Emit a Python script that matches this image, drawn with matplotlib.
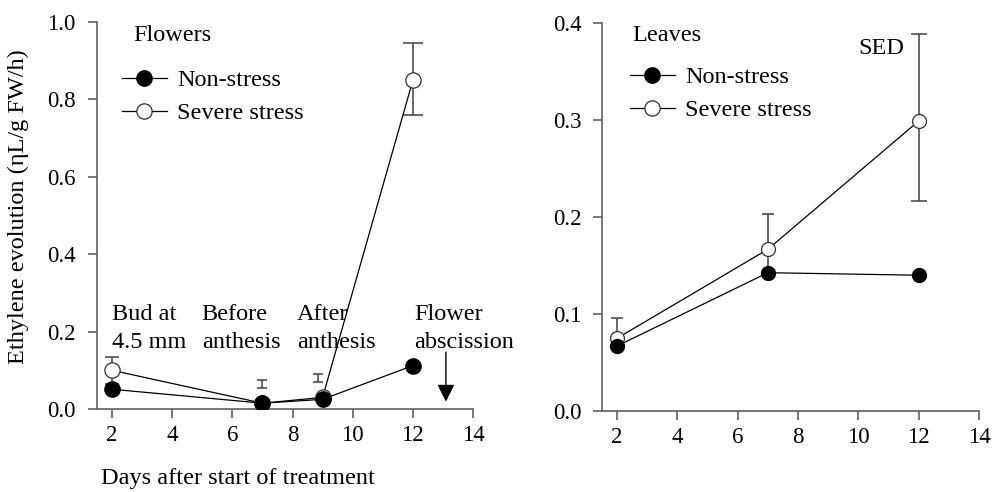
import matplotlib
matplotlib.use("Agg")
import matplotlib.pyplot as plt
from matplotlib.lines import Line2D

plt.rcParams['font.family'] = ['Liberation Serif', 'DejaVu Serif']
plt.rcParams['font.size'] = 17.5

# flowers
days_f = [2, 7, 9, 12]
flow_non = [0.051, 0.015, 0.025, 0.112]
flow_sev = [0.100, 0.015, 0.030, 0.849]
# SED bars on the flower panel (x, bottom, top)
flow_bar_x = [2, 7, 8.85, 12]
flow_bar_lo = [0.065, 0.053, 0.071, 0.759]
flow_bar_hi = [0.135, 0.075, 0.091, 0.945]
flow_caps = [5, 3.6, 3.6, 7]
stage_x = [2.0, 4.98, 8.14, 12.04]
stage_txt = ["Bud at\n4.5 mm", "Before\nanthesis", "After\nanthesis", "Flower\nabscission"]

# leaves
days_l = [2, 7, 12]
leaf_non = [0.067, 0.1426, 0.140]
leaf_sev = [0.075, 0.1667, 0.299]
leaf_bar_x = [2, 7, 12]
leaf_bar_lo = [0.067, 0.1426, 0.2165]
leaf_bar_hi = [0.0956, 0.2028, 0.389]
leaf_caps = [4, 4, 5.5]

spine_col = '#606060'
bar_col = '#404040'

fig = plt.figure(figsize=(9.97, 4.92), dpi=100)
ax1 = fig.add_axes([0.0973, 0.1687, 0.3771, 0.7866])
ax2 = fig.add_axes([0.6038, 0.1646, 0.3781, 0.7886])


def style(ax, ymax, ystep, ypad):
    for s in ['top', 'right']:
        ax.spines[s].set_visible(False)
    for s in ['left', 'bottom']:
        ax.spines[s].set_color(spine_col)
        ax.spines[s].set_linewidth(1.2)
    ax.set_xlim(1.5, 14)
    ax.set_ylim(0, ymax)
    ax.set_xticks([2, 4, 6, 8, 10, 12, 14])
    yt = [round(i * ystep, 2) for i in range(int(round(ymax / ystep)) + 1)]
    ax.set_yticks(yt)
    ax.set_yticklabels(["%.1f" % v for v in yt])
    ax.tick_params(direction='out', length=6.5, width=1.2, color=spine_col,
                   labelsize=16.5)
    ax.tick_params(axis='x', pad=5)
    ax.tick_params(axis='y', pad=ypad)


def bars(ax, xs, lo, hi, caps):
    for x, a, b, c in zip(xs, lo, hi, caps):
        mid = (a + b) / 2
        ax.errorbar([x], [mid], yerr=[[mid - a], [b - mid]], fmt='none',
                    ecolor=bar_col, elinewidth=1.1, capsize=c, capthick=1.1, zorder=1)


def series(ax, x, non, sev, ms):
    ax.plot(x, non, '-', color='black', lw=0.9, marker='o', ms=ms,
            mfc='black', mec='black', zorder=3)
    ax.plot(x, sev, '-', color='black', lw=0.9, marker='o', ms=ms,
            mfc='white', mec='#303030', mew=0.9, zorder=2)


def legend(ax, anchor):
    h = [Line2D([], [], color='black', lw=0.9, marker='o', ms=11, mfc='black', mec='black'),
         Line2D([], [], color='black', lw=0.9, marker='o', ms=11, mfc='white', mec='#303030', mew=0.9)]
    ax.legend(h, ["Non-stress", "Severe stress"], loc='upper left', bbox_to_anchor=anchor,
              frameon=False, borderpad=0, borderaxespad=0, handlelength=1.85,
              handletextpad=0.42, labelspacing=0.45)


# flowers panel
style(ax1, 1.0, 0.2, 9)
bars(ax1, flow_bar_x, flow_bar_lo, flow_bar_hi, flow_caps)
series(ax1, days_f, flow_non, flow_sev, 11)
legend(ax1, (0.066, 0.878))
ax1.text(2.7, 0.966, "Flowers", va='center', ha='left')
for x, t in zip(stage_x, stage_txt):
    ax1.text(x, 0.209, t, va='center', ha='left', linespacing=1.45)
ax1.annotate("", xy=(13.1, 0.019), xytext=(13.1, 0.147),
             arrowprops=dict(arrowstyle='-|>,head_length=0.6,head_width=0.3',
                             color='black', lw=1.0, shrinkA=0, shrinkB=0))

# leaves panel
style(ax2, 0.4, 0.1, 8)
bars(ax2, leaf_bar_x, leaf_bar_lo, leaf_bar_hi, leaf_caps)
series(ax2, days_l, leaf_non, leaf_sev, 10)
legend(ax2, (0.074, 0.888))
ax2.text(2.49, 0.3876, "Leaves", va='center', ha='left')
ax2.text(10.75, 0.374, "SED", va='center', ha='center')

fig.text(0.018, 0.581, "Ethylene evolution (\u03b7L/g FW/h)", rotation=90,
         va='center', ha='center')
fig.text(0.239, 0.028, "Days after start of treatment", va='center', ha='center')

fig.savefig("out.png", dpi=100)
